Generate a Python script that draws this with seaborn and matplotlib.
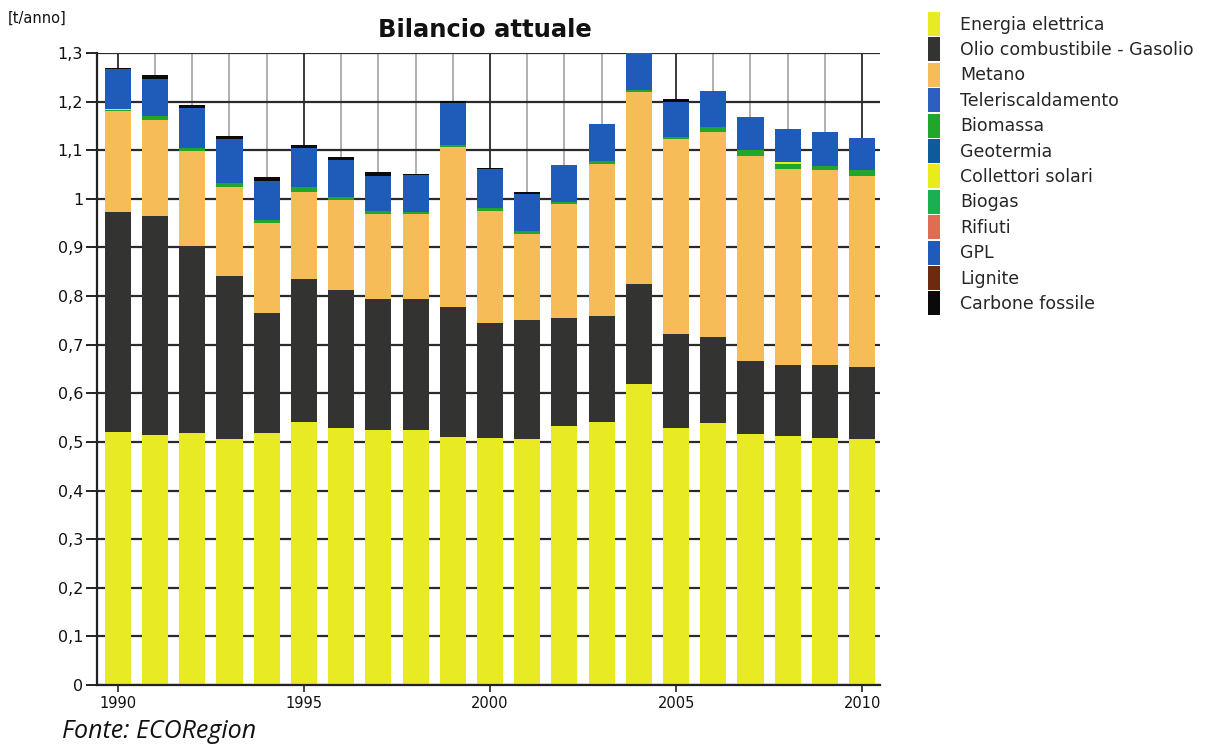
import numpy as np
import pandas as pd
import matplotlib
matplotlib.use("Agg")
import matplotlib.pyplot as plt
import seaborn as sns
from matplotlib.patches import Patch
from matplotlib.ticker import MultipleLocator, FuncFormatter

years = list(range(1990, 2011))

sources = ["Energia elettrica", "Olio combustibile - Gasolio", "Metano",
           "Teleriscaldamento", "Biomassa", "Geotermia", "Collettori solari",
           "Biogas", "Rifiuti", "GPL", "Lignite", "Carbone fossile"]

energia_elettrica = [0.521, 0.514, 0.518, 0.506, 0.518, 0.541, 0.528, 0.525, 0.525, 0.510, 0.508,
                     0.506, 0.533, 0.541, 0.619, 0.528, 0.538, 0.516, 0.512, 0.509, 0.506]
olio_gasolio = [0.451, 0.450, 0.386, 0.336, 0.248, 0.294, 0.285, 0.269, 0.268, 0.267, 0.237,
                0.244, 0.221, 0.217, 0.206, 0.194, 0.177, 0.151, 0.146, 0.149, 0.149]
metano = [0.208, 0.198, 0.195, 0.183, 0.185, 0.180, 0.185, 0.174, 0.175, 0.329, 0.229,
          0.178, 0.236, 0.313, 0.394, 0.401, 0.422, 0.422, 0.404, 0.402, 0.392]
teleriscaldamento = [0.0] * 21
biomassa = [0.003, 0.009, 0.005, 0.007, 0.006, 0.009, 0.005, 0.008, 0.004, 0.005, 0.007,
            0.005, 0.004, 0.006, 0.005, 0.005, 0.010, 0.012, 0.010, 0.008, 0.013]
geotermia = [0.0] * 21
collettori_solari = [0.002, 0.0, 0.0, 0.0, 0.0, 0.0, 0.0, 0.0, 0.0, 0.0, 0.0,
                     0.0, 0.0, 0.0, 0.0, 0.0, 0.0, 0.0, 0.004, 0.0, 0.0]
biogas = [0.0] * 21
rifiuti = [0.0] * 21
gpl = [0.082, 0.076, 0.083, 0.091, 0.079, 0.080, 0.077, 0.072, 0.077, 0.086, 0.080,
       0.077, 0.076, 0.077, 0.078, 0.072, 0.074, 0.068, 0.068, 0.070, 0.065]
lignite = [0.0] * 21
carbone_fossile = [0.002, 0.007, 0.006, 0.007, 0.008, 0.006, 0.007, 0.007, 0.002, 0.004, 0.002,
                   0.005, 0.0, 0.0, 0.003, 0.005, 0.0, 0.0, 0.0, 0.0, 0.0]

series = [energia_elettrica, olio_gasolio, metano, teleriscaldamento, biomassa, geotermia,
          collettori_solari, biogas, rifiuti, gpl, lignite, carbone_fossile]

colors = ["#e8ea24", "#333331", "#f6bc58", "#2c5fc0", "#21a62c", "#0d5b9b",
          "#e8ec1a", "#18b050", "#e06c55", "#1f5bb8", "#6e2a0e", "#0a0a0a"]

rows = []
for name, vals in zip(sources, series):
    for y, v in zip(years, vals):
        rows.append({"year": y, "source": name, "value": v})
df = pd.DataFrame(rows)

sns.set_style("white")
plt.rcParams["font.family"] = ["DejaVu Sans"]

fig = plt.figure(figsize=(12.18, 7.44), dpi=100)
ax = fig.add_axes([97 / 1218, 1 - 685 / 744, (880 - 97) / 1218, (685 - 53) / 744])

palette = dict(zip(sources, colors))
sns.histplot(data=df, x="year", weights="value", hue="source", hue_order=sources[::-1],
             multiple="stack", discrete=True, shrink=0.7, palette=palette,
             linewidth=0, alpha=1, ax=ax, legend=False)

ax.set_xlim(1989.44, 2010.48)
ax.set_ylim(0, 1.3)
ax.set_xlabel("")
ax.set_ylabel("")

ax.yaxis.set_major_locator(MultipleLocator(0.1))
ax.xaxis.set_major_locator(MultipleLocator(5))
ax.xaxis.set_minor_locator(MultipleLocator(1))


def fmt(v, pos):
    s = f"{v:.1f}"
    if s.endswith(".0"):
        s = s[:-2]
    return s.replace(".", ",")


ax.yaxis.set_major_formatter(FuncFormatter(fmt))
ax.set_axisbelow(True)
ax.grid(True, axis="y", which="major", color="#2a2a2a", linewidth=1.6)
ax.grid(True, axis="x", which="major", color="#2a2a2a", linewidth=1.3)
ax.grid(True, axis="x", which="minor", color="#9a9a9a", linewidth=1.1)

for s in ["top", "right"]:
    ax.spines[s].set_visible(False)
for s in ["left", "bottom"]:
    ax.spines[s].set_color("#222222")
    ax.spines[s].set_linewidth(1.6)

ax.tick_params(axis="y", which="major", direction="out", length=8, width=1.4,
               color="#222222", labelsize=11.5, pad=2, labelcolor="#111111", left=True)
ax.tick_params(axis="x", which="major", direction="inout", length=10, width=1.2,
               color="#222222", labelsize=10.5, pad=3, labelcolor="#111111", bottom=True)
ax.tick_params(axis="x", which="minor", length=0)

fig.text(485 / 1218, 1 - 30 / 744, "Bilancio attuale", ha="center", va="center",
         fontsize=17.5, fontweight="bold", color="#111111")
fig.text(8 / 1218, 1 - 18 / 744, "[t/anno]", ha="left", va="center", fontsize=10.5,
         color="#111111")
fig.text(62 / 1218, 1 - 732 / 744, "Fonte: ECORegion", ha="left", va="center",
         fontsize=18, style="italic", family="Open Sans", color="#111111")

handles = [Patch(facecolor=c, edgecolor="none") for c in colors]
fig.legend(handles, sources, loc="upper left", bbox_to_anchor=(928 / 1218, 1 - 12 / 744),
           frameon=False, handlelength=0.69, handleheight=1.75, labelspacing=0.08,
           handletextpad=1.15, fontsize=12.5, borderaxespad=0, borderpad=0)

fig.savefig("out.png", dpi=100)
